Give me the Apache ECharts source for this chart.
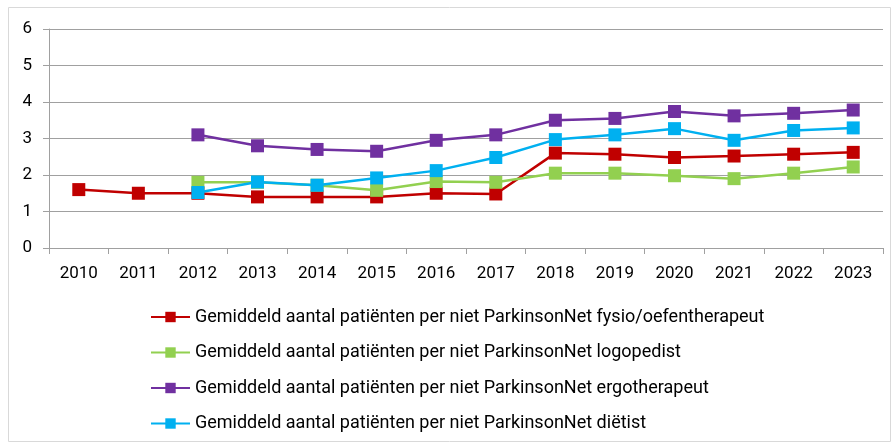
<!DOCTYPE html>
<html><head><meta charset="utf-8">
<script src="https://cdn.jsdelivr.net/npm/echarts@6/dist/echarts.min.js"></script>
<style>html,body{margin:0;padding:0;background:#fff}#c{width:893px;height:445px}</style>
</head><body><div id="c"></div>
<script>
const years = ['2010','2011','2012','2013','2014','2015','2016','2017','2018','2019','2020','2021','2022','2023'];
const fysio = [1.6,1.5,1.5,1.4,1.4,1.4,1.5,1.48,2.6,2.57,2.48,2.52,2.57,2.62];
const logopedist = [null,null,1.8,1.8,1.72,1.58,1.82,1.8,2.05,2.05,1.98,1.9,2.05,2.22];
const ergotherapeut = [null,null,3.1,2.8,2.7,2.65,2.95,3.1,3.5,3.55,3.74,3.62,3.69,3.78];
const dietist = [null,null,1.52,1.81,1.72,1.92,2.12,2.48,2.97,3.1,3.27,2.95,3.22,3.29];
const names = [
 'Gemiddeld aantal patiënten per niet ParkinsonNet fysio/oefentherapeut',
 'Gemiddeld aantal patiënten per niet ParkinsonNet logopedist',
 'Gemiddeld aantal patiënten per niet ParkinsonNet ergotherapeut',
 'Gemiddeld aantal patiënten per niet ParkinsonNet diëtist'
];
const colors = ['#C00000','#92D050','#7030A0','#00B0F0'];
const datasets = [fysio, logopedist, ergotherapeut, dietist];
const chart = echarts.init(document.getElementById('c'));
chart.setOption({
  animation:false,
  textStyle:{fontFamily:'Roboto'},
  graphic:[{type:'rect',shape:{x:8.5,y:7.5,width:882,height:434},style:{fill:'none',stroke:'#d9d9d9',lineWidth:1},silent:true,z:-1}],
  grid:{left:49,right:10,top:29,bottom:197,containLabel:false},
  legend:{orient:'vertical',left:145,top:303,itemGap:17.5,itemWidth:39,itemHeight:13,
    textStyle:{fontSize:18,color:'#000',fontFamily:'Roboto'},data:names},
  xAxis:{type:'category',data:years,boundaryGap:true,
    axisLine:{lineStyle:{color:'#a0a0a0',width:1}},
    axisTick:{show:true,alignWithLabel:false,length:6,lineStyle:{color:'#a0a0a0'}},
    axisLabel:{color:'#000',fontSize:17,margin:17}},
  yAxis:{type:'value',min:0,max:6,interval:1,
    axisLine:{show:true,lineStyle:{color:'#a0a0a0',width:1}},
    axisTick:{show:true,length:6,lineStyle:{color:'#a0a0a0'}},
    splitLine:{lineStyle:{color:'#a0a0a0',width:1}},
    axisLabel:{color:'#000',fontSize:17,margin:17}},
  series: datasets.map((d,i)=>({name:names[i],type:'line',data:d,color:colors[i],
    symbol:'rect',symbolSize:13,showSymbol:true,connectNulls:false,
    lineStyle:{width:2.5,color:colors[i]},itemStyle:{color:colors[i]},z:2+i}))
});
</script></body></html>
